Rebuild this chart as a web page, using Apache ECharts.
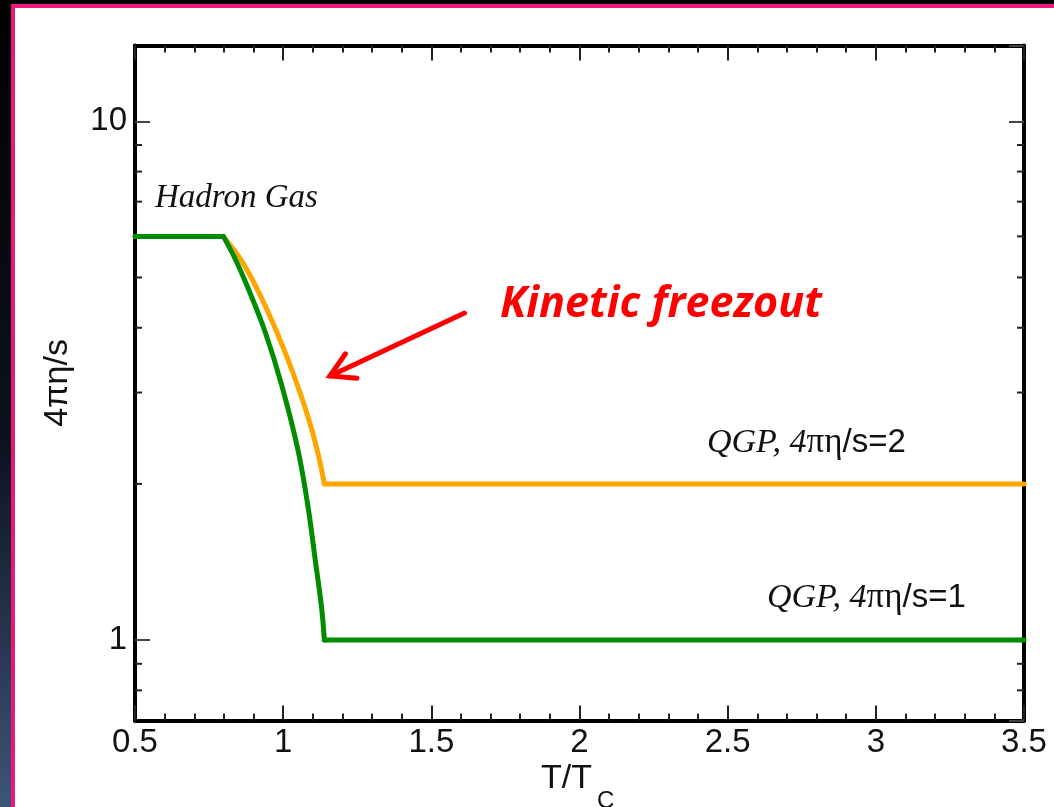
<!DOCTYPE html>
<html>
<head>
<meta charset="utf-8">
<script src="https://cdn.jsdelivr.net/npm/echarts@6/dist/echarts.min.js"></script>
<style>
html,body{margin:0;padding:0;background:#fff;}
#c{width:1054px;height:807px;}
</style>
</head>
<body>
<div id="c"></div>
<script>
// ---- data ----
const xMin = 0.5, xMax = 3.5, xInterval = 0.5;
const yMin = 0.7, yMax = 14;
const yMinorTicks = [0.8, 0.9, 2, 3, 4, 5, 6, 7, 8, 9];

// 4πη/s = 1 (green): hadron gas plateau, falling crossover, QGP plateau
const greenT = [0.5, 0.798, 0.8375, 0.882, 0.939, 0.995, 1.051, 1.085, 1.1075, 1.130, 1.139, 3.5];
const greenV = [6.0, 6.0, 5.44, 4.76, 3.93, 3.10, 2.31, 1.79, 1.437, 1.151, 1.0, 1.0];

// 4πη/s = 2 (orange)
const orangeT = [0.5, 0.798, 0.860, 0.916, 0.9725, 1.029, 1.085, 1.1186, 1.139, 3.5];
const orangeV = [6.0, 6.0, 5.38, 4.70, 4.00, 3.32, 2.68, 2.275, 2.0, 2.0];

const arrowTail = [1.612, 4.27];
const arrowTip = [1.158, 3.23];

function pairs(ts, vs) { return ts.map((t, i) => [t, vs[i]]); }
const greenAll = pairs(greenT, greenV);
const orangeAll = pairs(orangeT, orangeV);
// plateaus (first two and last two points) drawn straight, crossover drawn smooth
function plateaus(d) { return [d[0], d[1], '-', d[d.length - 2], d[d.length - 1]]; }
function crossover(d) { return d.slice(1, d.length - 1); }

const chart = echarts.init(document.getElementById('c'), null, {renderer: 'canvas'});

const axisLineStyle = {color: '#000', width: 4};
const tickStyle = {color: '#222', width: 2};
const sansF = 'Liberation Sans, Arial, sans-serif';

const GREEN = '#008C00', ORANGE = '#FFA500';

const option = {
  backgroundColor: '#ffffff',
  animation: false,
  grid: {left: 135, right: 30, top: 45.5, bottom: 86.6, containLabel: false},
  xAxis: [
    {
      type: 'value', position: 'bottom', min: xMin, max: xMax, interval: xInterval,
      axisLine: {show: true, onZero: false, lineStyle: axisLineStyle},
      axisTick: {show: true, inside: true, length: 15, lineStyle: tickStyle},
      minorTick: {show: true, splitNumber: 5, length: 7, lineStyle: tickStyle},
      splitLine: {show: false},
      axisLabel: {show: true, margin: 6, color: '#111', fontSize: 33, fontFamily: sansF,
        formatter: v => String(v)}
    },
    {
      type: 'value', position: 'top', min: xMin, max: xMax, interval: xInterval,
      axisLine: {show: true, onZero: false, lineStyle: axisLineStyle},
      axisTick: {show: true, inside: true, length: 15, lineStyle: tickStyle},
      minorTick: {show: true, splitNumber: 5, length: 7, lineStyle: tickStyle},
      splitLine: {show: false},
      axisLabel: {show: false}
    }
  ],
  yAxis: [
    {
      type: 'log', logBase: 10, position: 'left', min: yMin, max: yMax,
      name: '4πη/s', nameLocation: 'middle', nameGap: 60, nameRotate: 90,
      nameTextStyle: {color: '#111', fontSize: 34, fontFamily: sansF},
      axisLine: {show: true, onZero: false, lineStyle: axisLineStyle},
      axisTick: {show: true, inside: true, length: 15, lineStyle: {color: '#444', width: 2}},
      minorTick: {show: false},
      splitLine: {show: false},
      axisLabel: {show: true, margin: 8, color: '#111', fontSize: 33, fontFamily: sansF,
        showMinLabel: false, showMaxLabel: false,
        formatter: v => (Math.abs(v - 1) < 1e-9 || Math.abs(v - 10) < 1e-9) ? String(Math.round(v)) : ''}
    },
    {
      type: 'log', logBase: 10, position: 'right', min: yMin, max: yMax,
      axisLine: {show: true, onZero: false, lineStyle: axisLineStyle},
      axisTick: {show: true, inside: true, length: 15, lineStyle: {color: '#444', width: 2}},
      minorTick: {show: false},
      splitLine: {show: false},
      axisLabel: {show: false}
    }
  ],
  series: [
    {
      type: 'custom', name: 'yMinorTicks', xAxisIndex: 0, yAxisIndex: 0, silent: true, z: 1,
      data: yMinorTicks.map(v => [xMin, v]),
      renderItem: function (params, api) {
        const p = api.coord([api.value(0), api.value(1)]);
        const cs = params.coordSys;
        return {
          type: 'group',
          children: [
            {type: 'line', shape: {x1: cs.x, y1: p[1], x2: cs.x + 7, y2: p[1]}, style: {stroke: '#222', lineWidth: 2}},
            {type: 'line', shape: {x1: cs.x + cs.width, y1: p[1], x2: cs.x + cs.width - 7, y2: p[1]}, style: {stroke: '#222', lineWidth: 2}}
          ]
        };
      }
    },
    {
      type: 'line', name: 'QGP 4πη/s=2', data: plateaus(orangeAll), connectNulls: false,
      showSymbol: false, symbol: 'none', smooth: false, z: 3,
      lineStyle: {color: ORANGE, width: 5, cap: 'round', join: 'round'}
    },
    {
      type: 'line', name: 'QGP 4πη/s=2', data: crossover(orangeAll),
      showSymbol: false, symbol: 'none', smooth: 0.35, z: 3,
      lineStyle: {color: ORANGE, width: 5, cap: 'round', join: 'round'}
    },
    {
      type: 'line', name: 'QGP 4πη/s=1', data: plateaus(greenAll), connectNulls: false,
      showSymbol: false, symbol: 'none', smooth: false, z: 4,
      lineStyle: {color: GREEN, width: 5, cap: 'round', join: 'round'}
    },
    {
      type: 'line', name: 'QGP 4πη/s=1', data: crossover(greenAll),
      showSymbol: false, symbol: 'none', smooth: 0.35, z: 4,
      lineStyle: {color: GREEN, width: 5, cap: 'round', join: 'round'}
    }
  ]
};

chart.setOption(option);

// annotations
const tip = chart.convertToPixel({gridIndex: 0}, arrowTip);
const tail = chart.convertToPixel({gridIndex: 0}, arrowTail);
const ang = Math.atan2(tail[1] - tip[1], tail[0] - tip[0]);
const armLen = 27, spread = 30 * Math.PI / 180;
const a1 = [tip[0] + armLen * Math.cos(ang - spread), tip[1] + armLen * Math.sin(ang - spread)];
const a2 = [tip[0] + armLen * Math.cos(ang + spread), tip[1] + armLen * Math.sin(ang + spread)];

const serif = '"Liberation Serif", "Times New Roman", serif';
const sans = '"Liberation Sans", Arial, sans-serif';
const qgpRich = {
  i: {fontFamily: serif, fontStyle: 'italic', fontSize: 34, fill: '#111', color: '#111'},
  g: {fontFamily: serif, fontSize: 35, fill: '#111', color: '#111'},
  a: {fontFamily: sans, fontSize: 33, fill: '#111', color: '#111'}
};

chart.setOption({
  graphic: [
    // slide decoration
    {type: 'rect', z: -10, silent: true, shape: {x: 0, y: 0, width: 12, height: 807},
      style: {fill: new echarts.graphic.LinearGradient(0, 0, 0, 1, [
        {offset: 0, color: '#000000'}, {offset: 0.55, color: '#0d1220'}, {offset: 1, color: '#3e5578'}])}},
    {type: 'rect', z: -10, silent: true, shape: {x: 0, y: 0, width: 1054, height: 4}, style: {fill: '#000'}},
    {type: 'rect', z: -9, silent: true, shape: {x: 11, y: 4, width: 1043, height: 4}, style: {fill: '#E8197A'}},
    {type: 'rect', z: -9, silent: true, shape: {x: 11, y: 4, width: 4, height: 803}, style: {fill: '#E8197A'}},
    // texts
    {type: 'text', z: 10, silent: true, style: {x: 155, y: 198, text: 'Hadron Gas',
      font: 'italic 33px ' + serif, fill: '#111', textAlign: 'left', textVerticalAlign: 'middle'}},
    {type: 'text', z: 10, silent: true, style: {x: 707, y: 443, text: '{i|QGP, 4}{g|πη}{a|/s=2}',
      textAlign: 'left', textVerticalAlign: 'middle', rich: qgpRich}},
    {type: 'text', z: 10, silent: true, style: {x: 767, y: 598, text: '{i|QGP, 4}{g|πη}{a|/s=1}',
      textAlign: 'left', textVerticalAlign: 'middle', rich: qgpRich}},
    {type: 'text', z: 10, silent: true, style: {x: 500, y: 305, text: 'Kinetic freezout',
      font: 'italic bold 43px "Open Sans", "Noto Sans", sans-serif', fill: '#FF0000', textAlign: 'left', textVerticalAlign: 'middle'}},
    {type: 'text', z: 10, silent: true, style: {x: 541, y: 779, text: 'T/T',
      font: '34px ' + sans, fill: '#111', textAlign: 'left', textVerticalAlign: 'middle'}},
    {type: 'text', z: 10, silent: true, style: {x: 597, y: 801, text: 'C',
      font: '24px ' + sans, fill: '#111', textAlign: 'left', textVerticalAlign: 'middle'}},
    // arrow
    {type: 'line', z: 10, silent: true, shape: {x1: tail[0], y1: tail[1], x2: tip[0], y2: tip[1]},
      style: {stroke: '#FF0000', lineWidth: 5, lineCap: 'round'}},
    {type: 'polyline', z: 10, silent: true, shape: {points: [a1, tip, a2]},
      style: {stroke: '#FF0000', fill: null, lineWidth: 5, lineCap: 'round', lineJoin: 'miter'}}
  ]
});
</script>
</body>
</html>
